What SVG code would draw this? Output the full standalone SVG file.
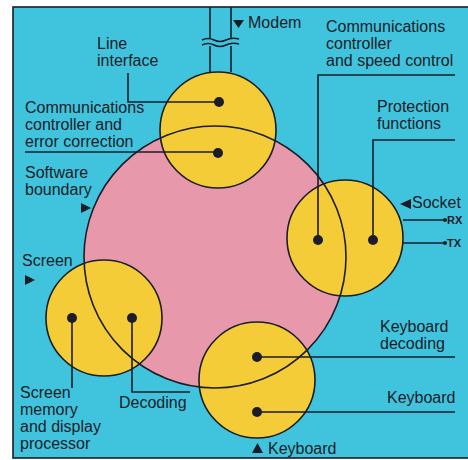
<svg xmlns="http://www.w3.org/2000/svg" width="468" height="460" viewBox="0 0 468 460">
<style>
text{font-family:"Liberation Sans",Arial,sans-serif;font-size:16px;fill:#1c1c28}
.small{font-size:11px;font-weight:bold}
.yel{fill:#f3cc38;stroke:#1c1c28;stroke-width:1.6}
.ln{fill:none;stroke:#1c1c28;stroke-width:1.6}
.dot{fill:#1c1c28}
.tri{fill:#1c1c28}
</style>
<rect x="0" y="0" width="468" height="460" fill="#ffffff"/>
<rect x="13" y="7" width="460" height="451" fill="#40c4dd" stroke="#1c1c28" stroke-width="1.6"/>
<g id="software">
<circle cx="215" cy="257" r="131" fill="#e898ab"/>
</g>
<g id="line-interface-node">
<circle class="yel" cx="218" cy="130" r="58"/>
</g>
<g id="socket-node">
<circle class="yel" cx="345" cy="238" r="58"/>
</g>
<g id="screen-node">
<circle class="yel" cx="104" cy="318" r="58"/>
</g>
<g id="keyboard-node">
<circle class="yel" cx="257" cy="380" r="58"/>
</g>
<g id="software-boundary">
<circle class="ln" cx="215" cy="257" r="131"/>
</g>
<g id="connectors">
<path class="ln" d="M210 7V38M210 46V72M231 7V38M231 46V72"/>
<path class="ln" d="M202 40q6 -3 12 0t12 0t13 -1M202 45q6 -3 12 0t12 0t13 -1"/>
<path class="ln" d="M128 73V102H219"/>
<path class="ln" d="M25 152H218"/>
<path class="ln" d="M318 240V75H455"/>
<path class="ln" d="M373 240V140H455"/>
<path class="ln" d="M403 220H445M402 243H445"/>
<path class="ln" d="M72 318V388"/>
<path class="ln" d="M132 318V392H190"/>
<path class="ln" d="M257 357H455M257 412H455"/>
</g>
<g id="dots">
<circle class="dot" cx="219" cy="102" r="5"/>
<circle class="dot" cx="218" cy="153" r="5"/>
<circle class="dot" cx="318" cy="240" r="5"/>
<circle class="dot" cx="373" cy="240" r="5"/>
<circle class="dot" cx="72" cy="318" r="5"/>
<circle class="dot" cx="132" cy="318" r="5"/>
<circle class="dot" cx="257" cy="357" r="5"/>
<circle class="dot" cx="257" cy="412" r="5"/>
<circle class="dot" cx="445" cy="220" r="2"/>
<circle class="dot" cx="445" cy="243" r="2"/>
</g>
<g id="markers">
<polygon class="tri" points="233,20 244,20 238.5,28"/>
<polygon class="tri" points="400,204 411,199 411,209"/>
<polygon class="tri" points="81,203 91,208 81,213"/>
<polygon class="tri" points="25,275 35,280 25,285"/>
<polygon class="tri" points="252,453 263,453 257.5,443"/>
</g>
<g id="labels">
<text x="248" y="28">Modem</text>
<text x="97" y="49">Line</text>
<text x="97" y="66">interface</text>
<text x="25" y="113">Communications</text>
<text x="25" y="130">controller and</text>
<text x="25" y="147">error correction</text>
<text x="25" y="178">Software</text>
<text x="25" y="195">boundary</text>
<text x="326" y="32">Communications</text>
<text x="326" y="49">controller</text>
<text x="326" y="66">and speed control</text>
<text x="377" y="112">Protection</text>
<text x="377" y="129">functions</text>
<text x="412" y="208">Socket</text>
<text class="small" x="447" y="224">RX</text>
<text class="small" x="447" y="247">TX</text>
<text x="22" y="266">Screen</text>
<text x="20" y="398">Screen</text>
<text x="20" y="415">memory</text>
<text x="20" y="432">and display</text>
<text x="20" y="449">processor</text>
<text x="119" y="408">Decoding</text>
<text x="380" y="332">Keyboard</text>
<text x="380" y="349">decoding</text>
<text x="387" y="403">Keyboard</text>
<text x="268" y="454">Keyboard</text>
</g>
</svg>
